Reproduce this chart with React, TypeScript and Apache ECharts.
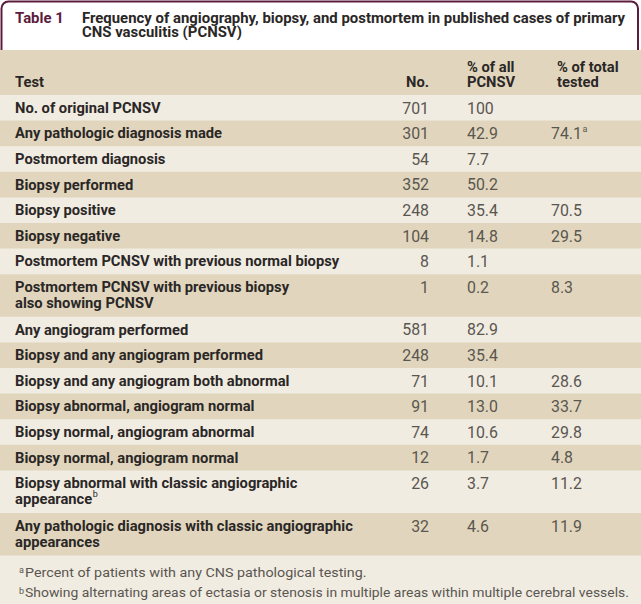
import React, { useEffect, useRef } from "react";
import * as echarts from "echarts";

const titleLabel = "Table 1";
const titleLines = ["Frequency of angiography, biopsy, and postmortem in published cases of primary", "CNS vasculitis (PCNSV)"];

const headers = ["Test", "No.", "% of all\nPCNSV", "% of total\ntested"];

const tests = [
  "No. of original PCNSV",
  "Any pathologic diagnosis made",
  "Postmortem diagnosis",
  "Biopsy performed",
  "Biopsy positive",
  "Biopsy negative",
  "Postmortem PCNSV with previous normal biopsy",
  "Postmortem PCNSV with previous biopsy\nalso showing PCNSV",
  "Any angiogram performed",
  "Biopsy and any angiogram performed",
  "Biopsy and any angiogram both abnormal",
  "Biopsy abnormal, angiogram normal",
  "Biopsy normal, angiogram abnormal",
  "Biopsy normal, angiogram normal",
  "Biopsy abnormal with classic angiographic\nappearance^b",
  "Any pathologic diagnosis with classic angiographic\nappearances",
];

const counts = ["701", "301", "54", "352", "248", "104", "8", "1", "581", "248", "71", "91", "74", "12", "26", "32"];
const pctAll = ["100", "42.9", "7.7", "50.2", "35.4", "14.8", "1.1", "0.2", "82.9", "35.4", "10.1", "13.0", "10.6", "1.7", "3.7", "4.6"];
const pctTested = ["", "74.1^a", "", "", "70.5", "29.5", "", "8.3", "", "", "28.6", "33.7", "29.8", "4.8", "11.2", "11.9"];

const footMarks = ["a", "b"];
const footnotes = [
  "Percent of patients with any CNS pathological testing.",
  "Showing alternating areas of ectasia or stenosis in multiple areas within multiple cerebral vessels.",
];

const MAROON = "#5c1c3e";
const TAN = "#e1d6bd";
const CREAM = "#f1ece2";
const DARK = "#2a2726";
const GREY = "#5a5650";
const FONT = "Roboto";

function measure(text: string, font: string): number {
  const c = document.createElement("canvas");
  const ctx = c.getContext("2d")!;
  ctx.font = font;
  return ctx.measureText(text).width;
}

export default function App() {
  const ref = useRef<HTMLDivElement>(null);
  useEffect(() => {
    document.body.style.margin = "0";
    const chart = echarts.init(ref.current!, null, { renderer: "svg", width: 641, height: 604 });

    const labelSize = (100 * 274) / measure("Postmortem PCNSV with previous biopsy", `bold 100px ${FONT}`);
    const titleSize = (100 * 543) / measure(titleLines[0], `bold 100px ${FONT}`);
    const numSize = (100 * 31) / measure("35.4", `100px ${FONT}`);
    const LB = `bold ${labelSize.toFixed(2)}px ${FONT}`;
    const TB = `bold ${titleSize.toFixed(2)}px ${FONT}`;
    const NR = `${numSize.toFixed(2)}px ${FONT}`;
    const FN = `13px Roboto`;

    const els: any[] = [];
    els.push({ type: "rect", z: 0, shape: { x: 0, y: 0, width: 641, height: 604 }, style: { fill: "#ffffff" } });
    els.push({ type: "rect", z: 1, shape: { x: 1.5, y: 1.5, width: 636.5, height: 70, r: 7 }, style: { fill: "#ffffff", stroke: MAROON, lineWidth: 2 } });
    els.push({ type: "rect", z: 2, shape: { x: 0, y: 50, width: 641, height: 554 }, style: { fill: CREAM } });
    els.push({ type: "rect", z: 3, shape: { x: 0, y: 50, width: 641, height: 45 }, style: { fill: TAN } });

    const addText = (x: number, y: number, text: string, font: string, fill: string, align = "left") => {
      const parts = text.split("^");
      els.push({ type: "text", z: 10, x, y, style: { text: parts[0], font, fill, textAlign: align, textVerticalAlign: "middle" } });
      if (parts[1]) {
        const w = measure(parts[0], font);
        const family = font.split("px ")[1];
        els.push({ type: "text", z: 10, x: x + w + 0.5, y: y - 5, style: { text: parts[1], font: `9px ${family}`, fill, textVerticalAlign: "middle" } });
      }
    };

    // title
    addText(15, 18, titleLabel, TB, MAROON);
    addText(82, 18, titleLines[0], TB, DARK);
    addText(82, 32, titleLines[1], TB, DARK);

    // headers
    addText(15, 82, headers[0], LB, DARK);
    addText(429, 82, headers[1], LB, DARK, "right");
    [2, 3].forEach((k) => {
      const [l1, l2] = headers[k].split("\n");
      const hx = k === 2 ? 467 : 557;
      addText(hx, 67, l1, LB, DARK);
      addText(hx, 82, l2, LB, DARK);
    });

    let top = 95;
    tests.forEach((label, i) => {
      const lines = label.split("\n");
      const h = lines.length > 1 ? 42.6 : 25.6;
      if (i % 2 === 1) {
        els.push({ type: "rect", z: 4, shape: { x: 0, y: top, width: 641, height: h }, style: { fill: TAN } });
      }
      lines.forEach((ln, j) => {
        const ly = lines.length > 1 ? top + 13 + j * 16 : top + h / 2;
        addText(15, ly, ln, LB, DARK);
      });
      const vy = top + 13;
      addText(429, vy, counts[i], NR, GREY, "right");
      addText(467, vy, pctAll[i], NR, GREY);
      if (pctTested[i]) addText(551, vy, pctTested[i], NR, GREY);
      top += h;
    });

    const targets = [342, 604];
    footnotes.forEach((t, i) => {
      const y = 572 + i * 21;
      const sx = targets[i] / measure(t, FN);
      els.push({ type: "text", z: 10, x: 19, y: y - 2, style: { text: footMarks[i], font: "9px Roboto", fill: GREY, textVerticalAlign: "middle" } });
      els.push({ type: "text", z: 10, x: 25, y, scaleX: sx, style: { text: t, font: FN, fill: GREY, textVerticalAlign: "middle" } });
    });

    chart.setOption({ animation: false, graphic: { elements: els } });
    return () => chart.dispose();
  }, []);
  return <div ref={ref} style={{ width: 641, height: 604 }} />;
}
